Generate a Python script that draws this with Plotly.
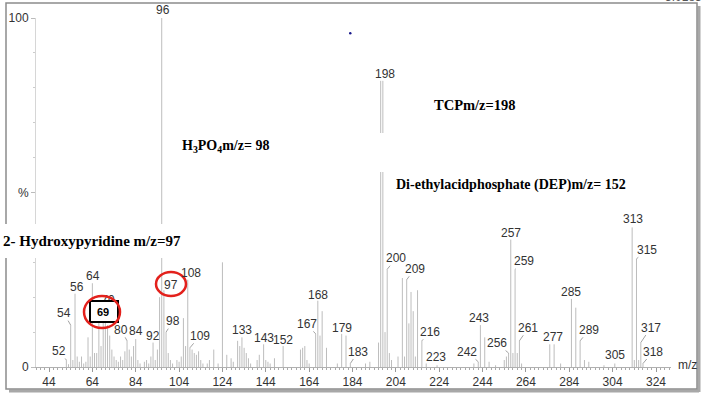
import plotly.graph_objects as go

# ---------------- data ----------------
mz = [52, 53, 54, 55, 56, 57, 58, 59, 60, 61, 62, 63, 64, 65, 66, 67, 68, 69, 70, 71,
      72, 73, 74, 75, 76, 77, 78, 79, 80, 81, 82, 83, 84, 85, 86, 88, 89, 90, 91, 92,
      93, 94, 95, 96, 97, 98, 99, 100, 101, 103, 104, 105, 106, 107, 108, 109, 110, 111, 112, 113,
      114, 115, 117, 118, 120, 122, 124, 126, 128, 129, 131, 132, 133, 134, 135, 136, 137, 140, 141, 143,
      144, 145, 146, 148, 152, 160, 161, 162, 163, 164, 167, 168, 169, 170, 172, 177, 179, 181, 183, 190,
      192, 196, 197, 198, 199, 200, 201, 202, 205, 207, 208, 209, 210, 211, 212, 213, 214, 216, 218, 223,
      240, 242, 243, 245, 247, 250, 254, 255, 256, 257, 258, 259, 260, 261, 262, 275, 277, 280, 285, 287,
      289, 291, 293, 300, 305, 313, 314, 315, 316, 317, 318]
intensity = [2, 0.8, 12, 2, 21, 3, 1.5, 3, 1, 1.5, 8.5, 3, 24, 4, 4, 13, 6, 17, 19, 12,
             9, 5, 3, 2, 1.5, 3, 2, 4.5, 7.5, 5, 3, 6, 8, 2, 1, 1.5, 2, 1, 3, 7,
             2, 5, 20, 100, 22, 10, 4, 2, 1, 2, 1.5, 3, 14, 6, 25, 5.5, 5, 4, 3.5, 4.5,
             2, 1, 1, 2, 5, 1, 30, 3.5, 2.5, 1.5, 7.5, 6, 8.5, 5.5, 4, 2.5, 1, 2, 3.5, 6.5,
             2, 1.5, 1, 2.5, 6, 5, 5.5, 6, 2, 1, 9.5, 19, 9, 16, 5.5, 1, 9.5, 9, 1, 1,
             1.5, 7, 82, 82, 10, 28, 4, 2, 3, 25.5, 3, 25, 12.5, 21.5, 16, 3, 22, 7.5, 1, 0.5,
             1, 1.5, 12, 8.5, 1.5, 0.5, 2, 3, 4, 36.5, 4, 28, 4, 7.5, 1, 6.5, 6.5, 1, 19.5, 17,
             7.5, 2, 1.5, 0.5, 1, 40, 2, 31, 2, 7, 1]

label_mz = [96, 52, 54, 56, 64, 80, 84, 92, 97, 98, 108, 109, 133, 143, 152, 167, 168, 179, 183,
            198, 200, 209, 216, 223, 242, 243, 256, 257, 259, 261, 277, 285, 289, 305, 313, 315, 317, 318]
boxed_label = 69
hidden_label = 70
x_ticks = [44, 64, 84, 104, 124, 144, 164, 184, 204, 224, 244, 264, 284, 304, 324]

# ---------------- label placement (pixel offsets from peak tip) ----------------
label_style = {
    96: (1, -8, False), 52: (-7, -9, True), 54: (-7, -12, True), 56: (1.5, -7, False),
    64: (1, -7, False), 80: (-6, -11, True), 84: (0, -8, False), 92: (0, -7, False),
    97: (7, -5, False), 98: (7, -11, True), 108: (3, -7, False), 109: (10, -12, True),
    133: (0, -7, False), 143: (0, -6, False), 152: (0, -6, False), 167: (-9, -10, True),
    168: (0, -6, False), 179: (0, -6, False), 183: (8, -12, True), 198: (2, -7, False),
    200: (9, -11, True), 209: (8, -11, True), 216: (8, -9, True), 223: (-1, -8, False),
    242: (-11, -10, True), 243: (-1, -7, False), 256: (-12, -10, True), 257: (0, -7, False),
    259: (9, -8, True), 261: (9, -13, True), 277: (-1, -7, False), 285: (0, -7, False),
    289: (9, -11, True), 305: (0, -9, False), 313: (1, -8, False), 315: (11, -9, True),
    317: (10, -15, True), 318: (10, -12, True),
}

W, H = 706, 399
L, R, T, B = 36, 35, 18, 32
XR = [38.0, 330.92]


def px(x):
    return (x - L) / (W - L - R)


def py(y):
    return (H - B - y) / (H - T - B)


xs, ys = [], []
for m, h in zip(mz, intensity):
    xs += [m, m, None]
    ys += [0, h, None]

fig = go.Figure()
fig.add_trace(go.Scatter(x=xs, y=ys, mode="lines", line=dict(color="#bdbdbd", width=1),
                         hoverinfo="skip", showlegend=False))
h70 = intensity[mz.index(hidden_label)]
fig.add_trace(go.Scatter(x=[hidden_label + 1.2], y=[h70], mode="text", text=[str(hidden_label)],
                         textposition="middle center", cliponaxis=False,
                         textfont=dict(family="Liberation Sans, Arial", size=12, color="#333"),
                         hoverinfo="skip", showlegend=False))

LABEL_FONT = dict(family="Liberation Sans, Arial", size=12, color="#333333")
annotations = []
for m in label_mz:
    h = intensity[mz.index(m)]
    dx, dy, leader = label_style[m]
    annotations.append(dict(
        x=m, y=h, xref="x", yref="y", text=str(m), showarrow=True, ax=dx, ay=dy,
        axref="pixel", ayref="pixel", arrowhead=0, arrowwidth=0.8, standoff=0, startstandoff=0,
        arrowcolor="#8a8a8a" if leader else "rgba(0,0,0,0)", font=LABEL_FONT, borderpad=0))

SERIF = "Liberation Serif, Times New Roman, serif"


def note(x, y, text, font, **kw):
    d = dict(x=px(x), y=py(y), xref="paper", yref="paper", text=text, showarrow=False,
             xanchor="center", yanchor="middle", font=font)
    d.update(kw)
    return d


annotations += [
    note(103, 311.5, "<b>%d</b>" % boxed_label, dict(family="Liberation Sans, Arial", size=11, color="#000")),
    note(91.5, 240.7, "<b>2- Hydroxypyridine m/z=97</b>", dict(family=SERIF, size=15, color="#000")),
    note(225, 146, "<b>H<sub>3</sub>PO<sub>4</sub>m/z= 98</b>", dict(family=SERIF, size=14, color="#000")),
    note(474.5, 105, "<b>TCPm/z=198</b>", dict(family=SERIF, size=14.5, color="#000")),
    note(511, 185, "<b>Di-ethylacidphosphate (DEP)m/z= 152</b>", dict(family=SERIF, size=14, color="#000")),
    note(687, 365, "m/z", dict(family="Liberation Sans, Arial", size=12, color="#333")),
    note(683, 6, "5.01e3", dict(family="Liberation Sans, Arial", size=12, color="#555"), yanchor="bottom"),
]


def rect(x0, y0, x1, y1, **kw):
    return dict(type="rect", xref="paper", yref="paper", x0=px(x0), x1=px(x1), y0=py(y0), y1=py(y1),
                layer="above", **kw)


shapes = [
    # frame with shadow
    dict(type="line", xref="paper", yref="paper", x0=px(699), x1=px(699), y0=py(6), y1=py(392),
         line=dict(color="#a8a8a8", width=3), layer="above"),
    dict(type="line", xref="paper", yref="paper", x0=px(9), x1=px(699), y0=py(391), y1=py(391),
         line=dict(color="#a8a8a8", width=3), layer="above"),
    rect(6, 3, 697, 389, line=dict(color="#8c8c8c", width=1.5)),
    # white patches (label backgrounds in original figure)
    rect(0, 224, 200, 258, line=dict(width=0), fillcolor="white"),
    rect(372, 133, 392, 172, line=dict(width=0), fillcolor="white"),
    # boxed label 69
    rect(90, 301, 118, 322, line=dict(color="#000", width=2), fillcolor="white"),
    # red circles
    dict(type="circle", xref="paper", yref="paper", x0=px(84), x1=px(120), y0=py(296), y1=py(328),
         line=dict(color="#e3211c", width=2.5), layer="above"),
    dict(type="circle", xref="paper", yref="paper", x0=px(156), x1=px(186), y0=py(272), y1=py(296),
         line=dict(color="#e3211c", width=2.5), layer="above"),
    # stray blue dot
    dict(type="circle", xref="paper", yref="paper", x0=px(349), x1=px(351.5), y0=py(32), y1=py(34.5),
         line=dict(width=0), fillcolor="#1a1a8c", layer="above"),
]

fig.update_layout(
    width=W, height=H,
    margin=dict(l=L, r=R, t=T, b=B, autoexpand=False),
    plot_bgcolor="white", paper_bgcolor="white",
    annotations=annotations, shapes=shapes,
    xaxis=dict(range=XR, showgrid=False, zeroline=False, showline=True, linecolor="#b0b0b0", linewidth=1,
               tickmode="array", tickvals=x_ticks, ticktext=[str(t) for t in x_ticks],
               ticks="outside", ticklen=4, tickcolor="#999", tickwidth=1,
               minor=dict(tickmode="linear", tick0=44, dtick=2, ticks="outside", ticklen=2, tickcolor="#aaa"),
               tickfont=dict(family="Liberation Sans, Arial", size=12, color="#333")),
    yaxis=dict(range=[0, 100], showgrid=False, zeroline=False, showline=True, linecolor="#d6d6d6", linewidth=1,
               tickmode="array", tickvals=[0, 50, 100], ticktext=["0", "%", "100"],
               ticks="outside", ticklen=4, tickcolor="#bbb",
               minor=dict(tickmode="linear", tick0=0, dtick=10, ticks="outside", ticklen=2, tickcolor="#ccc"),
               tickfont=dict(family="Liberation Sans, Arial", size=12, color="#333")),
)

fig.write_html("out.html", config={"displayModeBar": False},
               post_script="document.body.style.margin='0';document.body.style.overflow='hidden';")
